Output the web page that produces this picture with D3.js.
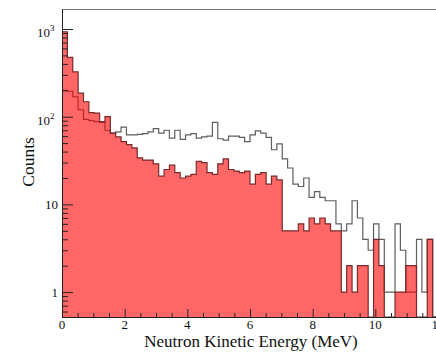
<!DOCTYPE html>
<html>
<head>
<meta charset="utf-8">
<script src="https://cdn.jsdelivr.net/npm/d3@7"></script>
<style>
  html, body { margin: 0; padding: 0; background: #fff; }
  svg { display: block; }
  text { font-family: "Liberation Serif", "DejaVu Serif", serif; fill: #111; }
</style>
</head>
<body>
<div id="chart"></div>
<script>
// 70 bins between 0 and 12 MeV
const binWidth = 12 / 70;

// filled (red) histogram, counts per bin
const redCounts = [
  930, 474, 325, 186, 148, 111, 110, 88, 100, 65,
  59, 52, 48, 44, 34, 32, 32, 29, 21, 25,
  28, 23, 20, 21, 22, 31, 30, 23, 22, 29,
  33, 25, 24, 23, 24, 17, 22, 23, 17, 21,
  19, 5, 5, 5, 6, 5, 7, 6, 7, 6,
  5, 5, 1, 2, 1, 2, 2, 0, 4, 2,
  0, 0, 1, 1, 2, 2, 0, 0, 4, 0
];

// outline-only (grey) histogram, counts per bin
const greyCounts = [
  200, 195, 168, 120, 93, 90, 88, 86, 70, 65,
  67, 76, 62, 62, 63, 64, 67, 73, 65, 70,
  57, 70, 55, 62, 64, 57, 59, 60, 86, 56,
  54, 60, 60, 58, 52, 62, 69, 65, 58, 42,
  49, 33, 26, 17, 16, 20, 12, 14, 12, 11,
  11, 6, 5, 6, 11, 7, 4, 3, 6, 4,
  1, 1, 6, 3, 1, 1, 4, 1, 4, 0
];

const xTicks = [0, 2, 4, 6, 8, 10, 12];
const yTicks = [1, 10, 100, 1000];
const yTickBase = ["1", "10", "10", "10"];
const yTickExp = ["", "", "2", "3"];

const width = 436, height = 352;
const padL = 62, padR = 438, padT = 9, padB = 317;

const x = d3.scaleLinear().domain([0, 12]).range([padL, padR]);
const y = d3.scaleLog().domain([0.52, 1690]).range([padB, padT]);
const floor = y.domain()[0];

const svg = d3.select("#chart")
  .append("svg")
  .attr("width", width)
  .attr("height", height);

svg.append("clipPath")
  .attr("id", "plotClip")
  .append("rect")
  .attr("x", padL)
  .attr("y", padT)
  .attr("width", padR - padL)
  .attr("height", padB - padT);

// turn counts into step points (left edge of each bin)
function steps(counts) {
  const pts = [[0, floor]];
  counts.forEach((c, i) => pts.push([i * binWidth, c > 0 ? c : floor]));
  const last = counts[counts.length - 1];
  pts.push([counts.length * binWidth, last > 0 ? last : floor]);
  pts.push([counts.length * binWidth, floor]);
  return pts;
}

const line = d3.line()
  .x(d => x(d[0]))
  .y(d => y(d[1]))
  .curve(d3.curveStepAfter);

const area = d3.area()
  .x(d => x(d[0]))
  .y0(padB)
  .y1(d => y(d[1]))
  .curve(d3.curveStepAfter);

// frame
svg.append("rect")
  .attr("x", padL + 0.5)
  .attr("y", padT + 0.5)
  .attr("width", padR - padL)
  .attr("height", padB - padT)
  .attr("fill", "none")
  .attr("stroke", "#777")
  .attr("stroke-width", 1);

const plot = svg.append("g").attr("clip-path", "url(#plotClip)");

// grey histogram (drawn under the red fill)
plot.append("path")
  .attr("d", line(steps(greyCounts)))
  .attr("fill", "none")
  .attr("stroke", "#5e5e5e")
  .attr("stroke-width", 1.2);

// axes, ticks pointing inward
const yMinor = [];
[0.1, 1, 10, 100, 1000].forEach(dec => {
  for (let m = 2; m <= 9; m++) {
    const v = m * dec;
    if (v >= y.domain()[0] && v <= y.domain()[1]) yMinor.push(v);
  }
});
const xMinor = d3.range(0, 12.01, 0.5).filter(v => v % 2 !== 0);

const yAxis = svg.append("g").attr("transform", `translate(${padL},0)`);
yAxis.call(d3.axisLeft(y).tickValues(yTicks).tickSize(-11).tickSizeOuter(0).tickFormat(""));
yAxis.append("g").call(d3.axisLeft(y).tickValues(yMinor).tickSize(-6).tickSizeOuter(0).tickFormat(""))
  .select(".domain").remove();

const xAxis = svg.append("g").attr("transform", `translate(0,${padB})`);
xAxis.call(d3.axisBottom(x).tickValues(xTicks).tickSize(-8).tickSizeOuter(0).tickFormat(""));
xAxis.append("g").call(d3.axisBottom(x).tickValues(xMinor).tickSize(-4).tickSizeOuter(0).tickFormat(""))
  .select(".domain").remove();

svg.selectAll(".domain, .tick line")
  .attr("stroke", "#222")
  .attr("stroke-width", 1);

// red histogram: translucent fill then dark outline
plot.append("path")
  .attr("d", area(steps(redCounts)))
  .attr("fill", "#ff0000")
  .attr("fill-opacity", 0.6)
  .attr("stroke", "none");

plot.append("path")
  .attr("d", line(steps(redCounts)))
  .attr("fill", "none")
  .attr("stroke", "#7a2a2a")
  .attr("stroke-width", 1.2);

// y tick labels
yTicks.forEach((v, i) => {
  svg.append("text")
    .attr("x", yTickExp[i] ? 50 : 58)
    .attr("y", y(v) + (yTickExp[i] ? 8 : 5))
    .attr("text-anchor", "end")
    .style("font-size", "13px")
    .text(yTickBase[i]);
  if (yTickExp[i]) {
    svg.append("text")
      .attr("x", 50)
      .attr("y", y(v) + 2)
      .style("font-size", "9px")
      .text(yTickExp[i]);
  }
});

// x tick labels
svg.selectAll(".xlabel")
  .data(xTicks)
  .enter().append("text")
  .attr("class", "xlabel")
  .attr("x", d => x(d))
  .attr("y", 329)
  .attr("text-anchor", "middle")
  .style("font-size", "13px")
  .text(d => d);

// axis titles
svg.append("text")
  .attr("x", 251)
  .attr("y", 347)
  .attr("text-anchor", "middle")
  .style("font-size", "17px")
  .text("Neutron Kinetic Energy (MeV)");

svg.append("text")
  .attr("transform", "translate(34,162) rotate(-90)")
  .attr("text-anchor", "middle")
  .style("font-size", "17.5px")
  .text("Counts");
</script>
</body>
</html>
